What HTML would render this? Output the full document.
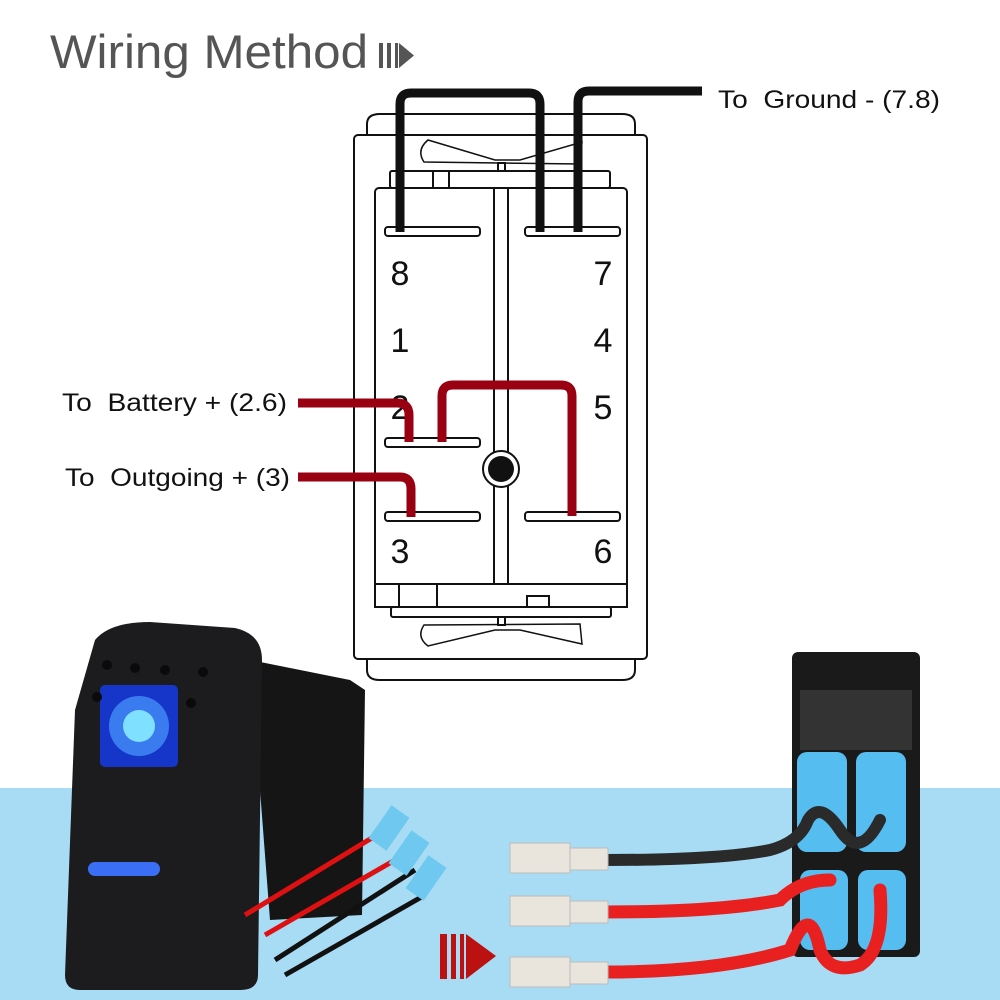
<!DOCTYPE html>
<html><head><meta charset="utf-8"><style>
html,body{margin:0;padding:0;background:#fff;}
svg{display:block;}
text{font-family:"Liberation Sans",Arial,sans-serif;white-space:pre;}
</style></head><body>
<svg width="1000" height="1000" viewBox="0 0 1000 1000" xmlns="http://www.w3.org/2000/svg">
<rect x="0" y="788" width="1000" height="212" fill="#a8dcf4"/>
<text x="50" y="68" font-size="47" fill="#555" textLength="318" lengthAdjust="spacingAndGlyphs">Wiring Method</text>
<rect x="379" y="43" width="4" height="25" fill="#555"/><rect x="387" y="43" width="4" height="25" fill="#555"/><rect x="395" y="43" width="3" height="25" fill="#555"/>
<polygon points="399,43 414,55.5 399,68" fill="#555"/>
<g fill="#fff" stroke="#111" stroke-width="2">
<path d="M367,135 L367,124 Q367,114 380,114 L622,114 Q635,114 635,124 L635,135 Z"/>
<path d="M367,659 L367,670 Q367,680 380,680 L622,680 Q635,680 635,670 L635,659 Z"/>
<rect x="354" y="135" width="293" height="524" rx="4"/>
<path d="M424,162 Q416,150 428,140 L495,160 L520,160 L582,142 L580,164 Z" stroke-width="1.5"/>
<path d="M424,625 Q416,637 428,646 L495,630 L520,630 L582,644 L580,624 Z" stroke-width="1.5"/>
<rect x="390" y="171" width="220" height="17" rx="2"/>
<rect x="433" y="171" width="16" height="17"/>
<rect x="498" y="163" width="7" height="8"/>
<rect x="375" y="188" width="252" height="419" rx="4"/>
<rect x="375" y="584" width="252" height="23"/>
<rect x="399" y="584" width="38" height="23"/>
<rect x="527" y="596" width="22" height="11"/>
<rect x="391" y="607" width="220" height="10" rx="2"/>
<rect x="498" y="617" width="7" height="8"/>
<rect x="494" y="188" width="14" height="396"/>
<rect x="385" y="227" width="95" height="9" rx="3"/>
<rect x="525" y="227" width="95" height="9" rx="3"/>
<rect x="385" y="438" width="95" height="9" rx="3"/>
<rect x="385" y="512" width="95" height="9" rx="3"/>
<rect x="525" y="512" width="95" height="9" rx="3"/>
<circle cx="501" cy="469" r="18"/>
</g>
<circle cx="501" cy="469" r="13" fill="#111"/>
<g font-size="34" fill="#111" text-anchor="middle">
<text x="400" y="285">8</text><text x="603" y="285">7</text>
<text x="400" y="352">1</text><text x="603" y="352">4</text>
<text x="400" y="419">2</text><text x="603" y="419">5</text>
<text x="400" y="563">3</text><text x="603" y="563">6</text>
</g>
<g fill="none" stroke="#111" stroke-width="9">
<path d="M400,232 L400,104 Q400,93 411,93 L529,93 Q540,93 540,104 L540,232"/>
<path d="M578,232 L578,102 Q578,91 589,91 L702,91"/>
</g>
<g fill="none" stroke="#990011" stroke-width="9">
<path d="M298,403 L397,403 Q409,403 409,415 L409,442"/>
<path d="M442,442 L442,396 Q442,385 453,385 L561,385 Q572,385 572,396 L572,516"/>
<path d="M298,477 L400,477 Q411,477 411,489 L411,517"/>
</g>
<text x="718" y="108" font-size="25" fill="#111" textLength="222" lengthAdjust="spacingAndGlyphs">To  Ground - (7.8)</text>
<text x="62" y="411" font-size="25" fill="#111" textLength="225" lengthAdjust="spacingAndGlyphs">To  Battery + (2.6)</text>
<text x="65" y="486" font-size="25" fill="#111" textLength="225" lengthAdjust="spacingAndGlyphs">To  Outgoing + (3)</text>
<!-- left switch photo -->
<path d="M250,660 L350,680 L365,690 L362,915 L270,920 Z" fill="#151515"/>
<path d="M95,640 Q110,622 150,622 L235,628 Q262,634 262,660 L258,975 Q258,990 240,990 L80,990 Q65,990 65,975 L75,710 Z" fill="#1c1c1e"/>
<rect x="100" y="685" width="78" height="82" rx="5" fill="#1536c8"/>
<circle cx="139" cy="726" r="30" fill="#3a7cf0"/><circle cx="139" cy="726" r="16" fill="#7fe0ff"/>
<rect x="88" y="862" width="72" height="14" rx="7" fill="#3a6ef5"/>
<g fill="#0a0a0a"><circle cx="107" cy="665" r="5"/><circle cx="135" cy="668" r="5"/><circle cx="165" cy="670" r="5"/><circle cx="203" cy="672" r="5"/><circle cx="97" cy="697" r="5"/><circle cx="191" cy="703" r="5"/></g>
<g stroke="#dd1111" stroke-width="5" fill="none"><path d="M245,915 L385,830"/><path d="M265,935 L395,860"/></g>
<g stroke="#111" stroke-width="5" fill="none"><path d="M275,960 L415,870"/><path d="M285,975 L425,895"/></g>
<g fill="#6fc8ef"><rect x="378" y="808" width="22" height="40" transform="rotate(35 389 828)"/><rect x="398" y="833" width="22" height="40" transform="rotate(35 409 853)"/><rect x="415" y="858" width="22" height="40" transform="rotate(35 426 878)"/></g>
<!-- arrow -->
<rect x="440" y="934" width="7" height="45" fill="#bb1111"/><rect x="451" y="934" width="5" height="45" fill="#bb1111"/><rect x="460" y="934" width="4" height="45" fill="#bb1111"/>
<polygon points="466,934 496,956 466,979" fill="#bb1111"/>
<!-- right switch photo -->
<rect x="792" y="652" width="128" height="305" rx="6" fill="#1a1a1a"/>
<rect x="800" y="690" width="112" height="60" fill="#333"/>
<rect x="797" y="752" width="50" height="100" rx="10" fill="#55bdf0"/><rect x="856" y="752" width="50" height="100" rx="10" fill="#55bdf0"/>
<rect x="800" y="870" width="48" height="80" rx="10" fill="#55bdf0"/><rect x="858" y="870" width="48" height="80" rx="10" fill="#55bdf0"/>
<g fill="none" stroke-linecap="round">
<path d="M605,860 Q720,860 770,850 Q800,842 808,820 Q820,800 840,830 Q860,860 880,820" stroke="#2a2a2a" stroke-width="12"/>
<path d="M605,912 Q720,912 780,900 Q800,880 830,880" stroke="#e82020" stroke-width="13"/>
<path d="M605,972 Q720,972 790,950 Q810,900 820,950 Q830,975 860,965 Q885,950 880,890" stroke="#e82020" stroke-width="13"/>
</g>
<g fill="#e9e4dc" stroke="#bbb">
<rect x="510" y="843" width="60" height="30"/><rect x="570" y="848" width="38" height="22"/>
<rect x="510" y="896" width="60" height="30"/><rect x="570" y="901" width="38" height="22"/>
<rect x="510" y="957" width="60" height="30"/><rect x="570" y="962" width="38" height="22"/>
</g>
</svg>
</body></html>
